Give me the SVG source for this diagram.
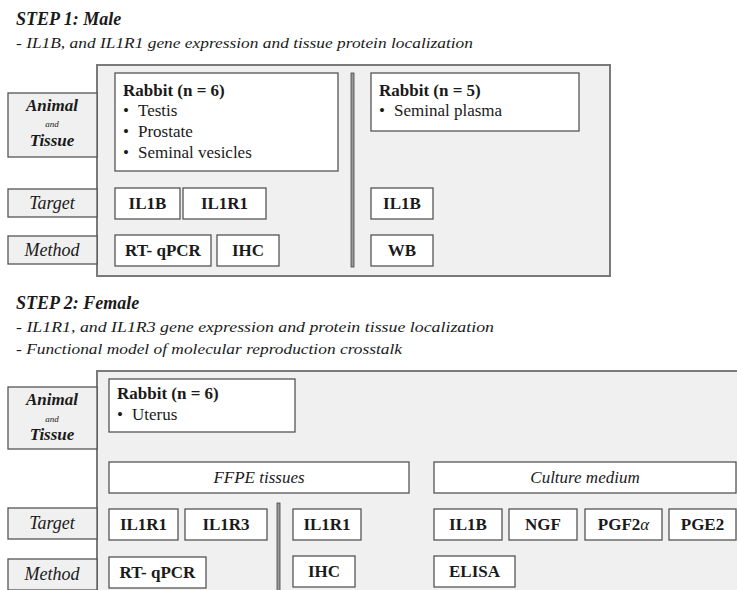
<svg xmlns="http://www.w3.org/2000/svg" width="737" height="590" viewBox="0 0 737 590" font-family="'Liberation Serif', 'DejaVu Serif', 'Times New Roman', serif">
<style>
text{font-family:"Liberation Serif","DejaVu Serif","Times New Roman",serif;fill:#1a1a1a}
.panel{fill:#f0f0f0;stroke:#7a7a7a;stroke-width:2}
.lbl{fill:#f0f0f0;stroke:#555;stroke-width:1.3}
.box{fill:#fff;stroke:#555;stroke-width:1.3}
.sep{fill:#9a9a9a;stroke:#444;stroke-width:0.8}
.title{font-size:18px;font-weight:bold;font-style:italic}
.sub{font-size:14px;font-style:italic}
.lb{font-size:18px;font-style:italic;text-anchor:middle}
.lbb{font-size:17px;font-style:italic;font-weight:bold;text-anchor:middle}
.and{font-size:9px;font-style:italic;text-anchor:middle}
.hd{font-size:17px;font-weight:bold}
.it{font-size:17px}
.bx{font-size:17px;font-weight:bold;text-anchor:middle}
.bi{font-size:17px;font-style:italic;text-anchor:middle}
</style>

<!-- STEP 1 -->
<g id="step1-header">
<text class="title" x="16" y="25">STEP 1: Male</text>
<text class="sub" x="16" y="48" textLength="457" lengthAdjust="spacingAndGlyphs">- IL1B, and IL1R1 gene expression and tissue protein localization</text>
</g>
<g id="step1-panel"><rect class="panel" x="97" y="65" width="513" height="211"/></g>

<g id="s1-label-animal"><rect class="lbl" x="8" y="93" width="89" height="64"/>
<text class="lbb" x="52" y="111">Animal</text><text class="and" x="52" y="127">and</text><text class="lbb" x="52" y="146">Tissue</text></g>
<g id="s1-label-target"><rect class="lbl" x="8" y="189" width="89" height="28"/><text class="lb" x="52" y="209">Target</text></g>
<g id="s1-label-method"><rect class="lbl" x="8" y="236" width="89" height="28"/><text class="lb" x="52" y="256">Method</text></g>

<g id="s1-rabbit6"><rect class="box" x="115" y="73" width="223" height="98"/>
<text class="hd" x="123" y="96">Rabbit (n = 6)</text>
<text class="it" x="123" y="116">•</text><text class="it" x="138" y="116">Testis</text>
<text class="it" x="123" y="137">•</text><text class="it" x="138" y="137">Prostate</text>
<text class="it" x="123" y="158">•</text><text class="it" x="138" y="158">Seminal vesicles</text></g>
<g id="s1-rabbit5"><rect class="box" x="371" y="73" width="208" height="58"/>
<text class="hd" x="379" y="96">Rabbit (n = 5)</text>
<text class="it" x="379" y="116">•</text><text class="it" x="394" y="116">Seminal plasma</text></g>

<g id="s1-il1b"><rect class="box" x="115" y="188" width="65" height="31"/><text class="bx" x="147.5" y="209">IL1B</text></g>
<g id="s1-il1r1"><rect class="box" x="183" y="188" width="83" height="31"/><text class="bx" x="224.5" y="209">IL1R1</text></g>
<g id="s1-rtqpcr"><rect class="box" x="115" y="235" width="96" height="31"/><text class="bx" x="163" y="256">RT- qPCR</text></g>
<g id="s1-ihc"><rect class="box" x="217" y="235" width="62" height="31"/><text class="bx" x="248" y="256">IHC</text></g>
<g id="s1-il1b-2"><rect class="box" x="371" y="188" width="62" height="31"/><text class="bx" x="402" y="209">IL1B</text></g>
<g id="s1-wb"><rect class="box" x="371" y="235" width="62" height="31"/><text class="bx" x="402" y="256">WB</text></g>

<!-- STEP 2 -->
<g id="step2-header">
<text class="title" x="16" y="309">STEP 2: Female</text>
<text class="sub" x="16" y="332" textLength="478" lengthAdjust="spacingAndGlyphs">- IL1R1, and IL1R3 gene expression and protein tissue localization</text>
<text class="sub" x="16" y="354" textLength="386" lengthAdjust="spacingAndGlyphs">- Functional model of molecular reproduction crosstalk</text>
</g>
<g id="step2-panel"><rect class="panel" x="97" y="371" width="660" height="240"/></g>

<g id="s2-label-animal"><rect class="lbl" x="8" y="387" width="89" height="62"/>
<text class="lbb" x="52" y="405">Animal</text><text class="and" x="52" y="422">and</text><text class="lbb" x="52" y="440">Tissue</text></g>
<g id="s2-label-target"><rect class="lbl" x="8" y="508" width="89" height="31"/><text class="lb" x="52" y="529">Target</text></g>
<g id="s2-label-method"><rect class="lbl" x="8" y="559" width="89" height="31"/><text class="lb" x="52" y="580">Method</text></g>

<g id="s2-rabbit6"><rect class="box" x="109" y="379" width="186" height="53"/>
<text class="hd" x="117" y="399">Rabbit (n = 6)</text>
<text class="it" x="117" y="420">•</text><text class="it" x="132" y="420">Uterus</text></g>

<g id="s2-ffpe"><rect class="box" x="109" y="462" width="300" height="31"/><text class="bi" x="259" y="483">FFPE tissues</text></g>
<g id="s2-culture"><rect class="box" x="434" y="462" width="302" height="31"/><text class="bi" x="585" y="483">Culture medium</text></g>

<g id="s2-il1r1"><rect class="box" x="109" y="509" width="69" height="31"/><text class="bx" x="143.5" y="530">IL1R1</text></g>
<g id="s2-il1r3"><rect class="box" x="185" y="509" width="82" height="31"/><text class="bx" x="226" y="530">IL1R3</text></g>
<g id="s2-il1r1-b"><rect class="box" x="293" y="509" width="68" height="31"/><text class="bx" x="327" y="530">IL1R1</text></g>
<g id="s2-il1b"><rect class="box" x="434" y="509" width="68" height="31"/><text class="bx" x="468" y="530">IL1B</text></g>
<g id="s2-ngf"><rect class="box" x="509" y="509" width="68" height="31"/><text class="bx" x="543" y="530">NGF</text></g>
<g id="s2-pgf2a"><rect class="box" x="585" y="509" width="77" height="31"/><text class="bx" x="623.5" y="530">PGF2<tspan font-style="italic" font-weight="normal">α</tspan></text></g>
<g id="s2-pge2"><rect class="box" x="669" y="509" width="67" height="31"/><text class="bx" x="702.5" y="530">PGE2</text></g>

<g id="s2-rtqpcr"><rect class="box" x="109" y="557" width="97" height="31"/><text class="bx" x="157.5" y="578">RT- qPCR</text></g>
<g id="s2-ihc"><rect class="box" x="293" y="556" width="62" height="31"/><text class="bx" x="324" y="577">IHC</text></g>
<g id="s2-elisa"><rect class="box" x="434" y="556" width="81" height="31"/><text class="bx" x="474.5" y="577">ELISA</text></g>

<g id="connectors">
<rect class="sep" x="351" y="73" width="3" height="194"/>
<rect class="sep" x="277" y="503" width="3" height="90"/>
</g>
</svg>
